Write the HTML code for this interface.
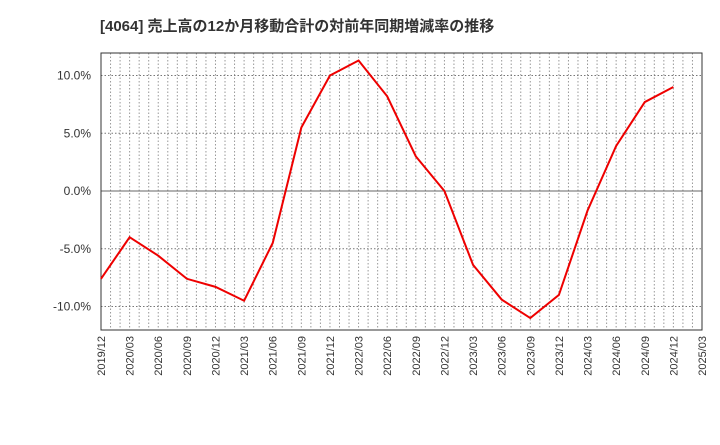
<!DOCTYPE html>
<html><head><meta charset="utf-8"><style>
body{margin:0;background:#fff;width:720px;height:440px;overflow:hidden}
svg text{font-family:"Liberation Sans","Noto Sans CJK JP",sans-serif}
</style></head><body>
<svg id="c" width="720" height="440"></svg>
<script>
const quarters=["2019/12","2020/03","2020/06","2020/09","2020/12","2021/03","2021/06","2021/09","2021/12","2022/03","2022/06","2022/09","2022/12","2023/03","2023/06","2023/09","2023/12","2024/03","2024/06","2024/09","2024/12","2025/03"];
const values=[-7.6,-4.0,-5.6,-7.6,-8.3,-9.5,-4.5,5.5,10.0,11.3,8.2,3.0,0.0,-6.4,-9.4,-11.0,-9.0,-1.7,3.9,7.7,9.0];
const yTicks=[10,5,0,-5,-10];
const yLabels=["10.0%","5.0%","0.0%","-5.0%","-10.0%"];
const L=101,R=702,T=53,B=330;
const x=i=>L+(R-L)*i/(quarters.length-1);
const y=v=>191-v*11.55;
const s=document.getElementById('c');const NS='http://www.w3.org/2000/svg';
function mk(t,a){const e=document.createElementNS(NS,t);for(const k in a)e.setAttribute(k,a[k]);s.appendChild(e);return e;}
let e=mk('text',{x:100,y:31,'font-size':15,'font-weight':'bold',fill:'#333'});e.textContent='[4064]  売上高の12か月移動合計の対前年同期増減率の推移';


for(let m=1;m<(quarters.length-1)*3;m++){const xx=L+(R-L)*m/((quarters.length-1)*3);
e=mk('line',{x1:xx,x2:xx,y1:T,y2:B,stroke:'#999','stroke-dasharray':'1.5,2','stroke-width':1});

}
yTicks.forEach((v,i)=>{
e=mk('line',{x1:L,x2:R,y1:y(v),y2:y(v),stroke:v===0?'#666':'#777','stroke-dasharray':v===0?'none':'1.5,2','stroke-width':1});


e=mk('text',{x:91,y:y(v)+4,'font-size':12,'text-anchor':'end',fill:'#333'});e.textContent=yLabels[i];

});
e=mk('rect',{x:L,y:T,width:R-L,height:B-T,fill:'none',stroke:'#333','stroke-width':1});


quarters.forEach((q,i)=>{e=mk('text',{transform:`translate(${x(i)+4},${B+6}) rotate(-90)`,'font-size':11,'text-anchor':'end',fill:'#333'});e.textContent=q;

});
e=mk('polyline',{points:values.map((v,i)=>x(i)+','+y(v)).join(' '),fill:'none',stroke:'#e00',"stroke-width":2});


</script>
</body></html>
